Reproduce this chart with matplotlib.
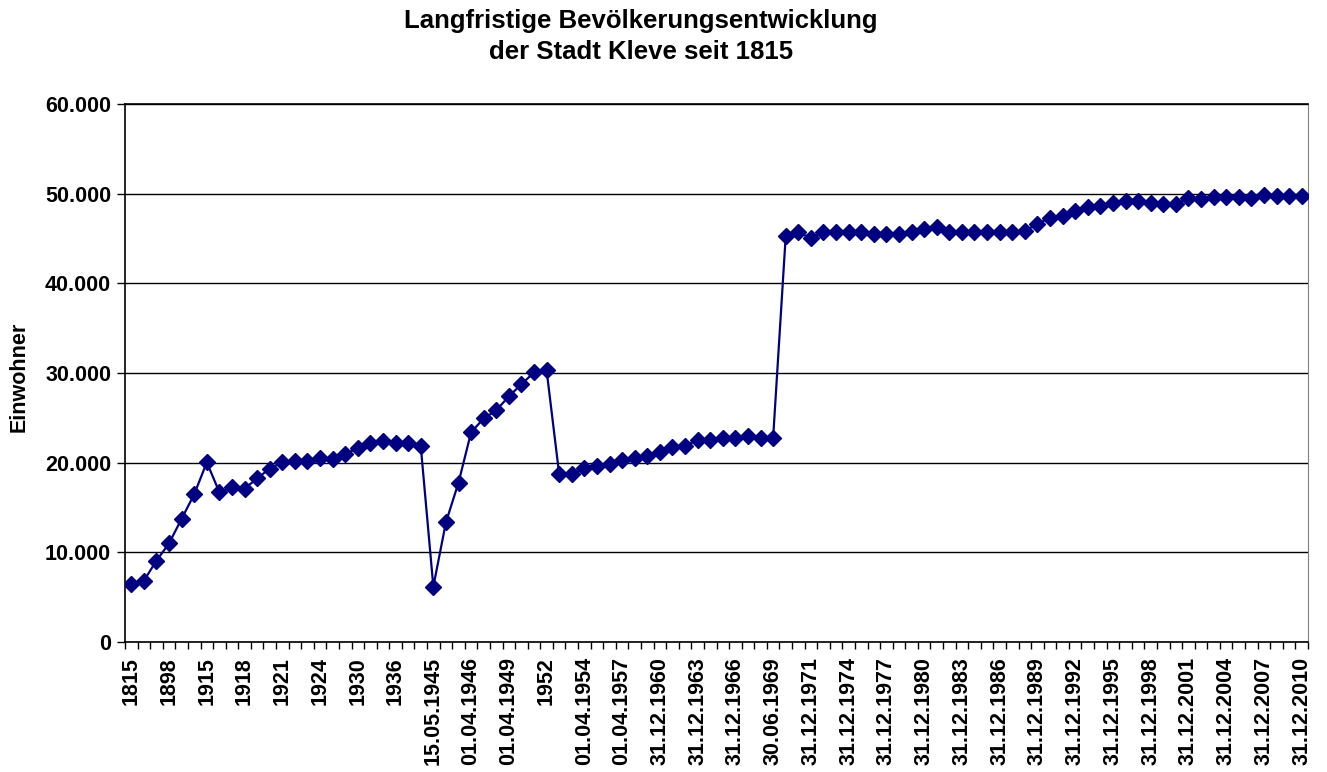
import numpy as np
import matplotlib
matplotlib.use("Agg")
import matplotlib.pyplot as plt
from matplotlib.ticker import FuncFormatter, MultipleLocator

plt.rcParams['font.family'] = ['Liberation Sans', 'DejaVu Sans']
plt.rcParams['font.weight'] = 'bold'

title = "Langfristige Bevölkerungsentwicklung\nder Stadt Kleve seit 1815"
y_label = "Einwohner"

# labels stand on every third category
tick_labels = ["1815", "1898", "1915", "1918", "1921", "1924", "1930", "1936",
               "15.05.1945", "01.04.1946", "01.04.1949", "1952", "01.04.1954",
               "01.04.1957", "31.12.1960", "31.12.1963", "31.12.1966", "30.06.1969",
               "31.12.1971", "31.12.1974", "31.12.1977", "31.12.1980", "31.12.1983",
               "31.12.1986", "31.12.1989", "31.12.1992", "31.12.1995", "31.12.1998",
               "31.12.2001", "31.12.2004", "31.12.2007", "31.12.2010"]
label_step = 3

einwohner = [6440, 6840, 9070, 11000, 13750, 16470, 20040, 16700, 17300, 17100,
             18250, 19330, 20040, 20200, 20200, 20480, 20400, 20930, 21670, 22230,
             22450, 22230, 22230, 21860, 6170, 13350,
             17770, 23380, 24940, 25830, 27400, 28740, 30070, 30300, 18700, 18700,
             19370, 19660, 19810, 20300, 20480, 20700, 21150, 21780, 21860, 22530,
             22530, 22710, 22710, 22970, 22710, 22790,
             45280, 45760, 45000, 45760, 45760, 45760, 45760, 45500, 45500, 45500,
             45760, 46020, 46250, 45760, 45760, 45760, 45760, 45760, 45760, 45870,
             46620, 47320, 47540, 48070, 48480, 48660, 48920, 49220, 49180, 48920,
             48810, 48810, 49480, 49370, 49670, 49590, 49590, 49480, 49850, 49780,
             49780, 49740]

W, H = 1327, 772
fig = plt.figure(figsize=(W / 100, H / 100), dpi=100)
ax = fig.add_axes([125 / W, 1 - 642 / H, (1308 - 125) / W, (642 - 104) / H])

x = np.arange(len(einwohner))
ax.plot(x, einwohner, color='#000080', linewidth=1.6, marker='D',
        markersize=8.5, markerfacecolor='#000080', markeredgecolor='#000080', zorder=3)

ax.set_xlim(-0.5, len(einwohner) - 0.5)
ax.set_ylim(0, 60000)
ax.yaxis.set_major_locator(MultipleLocator(10000))
ax.yaxis.set_major_formatter(FuncFormatter(lambda v, p: "{:,.0f}".format(v).replace(",", ".")))
ax.grid(axis='y', color='black', linewidth=1.0)
ax.set_axisbelow(True)

ax.set_xticks(x[::label_step])
ax.set_xticklabels(tick_labels, rotation=90)
ax.set_xticks(np.arange(-0.5, len(einwohner)), minor=True)
ax.tick_params(axis='x', which='major', length=0, pad=11, labelsize=15.5)
ax.tick_params(axis='x', which='minor', length=5, width=1, direction='out')
ax.tick_params(axis='y', which='major', length=6, width=1, direction='out', pad=4, labelsize=15.5)

for side in ['left', 'bottom', 'top']:
    ax.spines[side].set_color('black')
    ax.spines[side].set_linewidth(1.2)
ax.spines['right'].set_color('#808080')

fig.text(641 / W, 1 - 9 / H, title, ha='center', va='top', fontsize=18.5,
         fontweight='bold', linespacing=1.35)
fig.text(19 / W, 1 - 377 / H, y_label, ha='center', va='center', rotation=90,
         fontsize=15.5, fontweight='bold')

fig.savefig("out.png", dpi=100, facecolor='white')
